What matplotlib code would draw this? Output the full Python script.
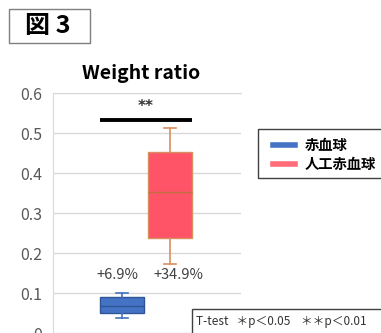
import matplotlib.pyplot as plt
from matplotlib.patches import Rectangle
from matplotlib.lines import Line2D

plt.rcParams['font.family'] = ['Noto Sans CJK JP', 'DejaVu Sans']

# box statistics per group: whisker low, Q1, median, Q3, whisker high
groups = ['赤血球', '人工赤血球']
whislo = [0.037, 0.172]
q1 = [0.050, 0.237]
med = [0.068, 0.352]
q3 = [0.090, 0.452]
whishi = [0.100, 0.512]
change_labels = ['+6.9%', '+34.9%']
label_x = [0.90, 2.17]
label_y = 0.145
sig_y = 0.533
sig_text = '**'

face_colors = ['#4472C4', '#FF5468']
edge_colors = ['#2F5597', '#D98F5F']
median_colors = ['#2F5597', '#C0703F']
legend_colors = ['#4472C4', '#FF6B78']

positions = [1, 2]
width = 0.92

fig = plt.figure(figsize=(3.81, 3.33), dpi=100)
ax = fig.add_axes([53 / 381, 0.0, 188 / 381, 240 / 333])

for i in range(len(groups)):
    stats = [dict(whislo=whislo[i], q1=q1[i], med=med[i], q3=q3[i],
                  whishi=whishi[i], fliers=[], label=groups[i])]
    ax.bxp(stats, positions=[positions[i]], widths=width, patch_artist=True,
           showfliers=False,
           boxprops=dict(facecolor=face_colors[i], edgecolor=edge_colors[i], linewidth=1.0),
           medianprops=dict(color=median_colors[i], linewidth=1.0),
           whiskerprops=dict(color=edge_colors[i] if i else face_colors[i], linewidth=1.2),
           capprops=dict(color=edge_colors[i] if i else face_colors[i], linewidth=1.2),
           capwidths=0.25)

ax.set_xlim(-0.44, 3.48)
ax.set_ylim(0, 0.6)
ax.set_yticks([0, 0.1, 0.2, 0.3, 0.4, 0.5, 0.6])
ax.set_yticklabels(['0', '0.1', '0.2', '0.3', '0.4', '0.5', '0.6'])
ax.set_xticks([])
ax.tick_params(axis='y', length=0, pad=8, labelsize=11.5, labelcolor='#595959')
ax.grid(axis='y', color='#D9D9D9', linewidth=1.0)
ax.set_axisbelow(True)
for side in ['right', 'bottom']:
    ax.spines[side].set_visible(False)
ax.spines['left'].set_color('#D9D9D9')
ax.spines['top'].set_color('#D9D9D9')

# significance bar across both boxes
ax.plot([positions[0] - width / 2, positions[1] + width / 2], [sig_y, sig_y],
        color='black', linewidth=2.8, solid_capstyle='butt')
ax.text(sum(positions) / 2, sig_y + 0.034, sig_text, ha='center', va='center',
        fontsize=11, fontweight='bold', color='#333333', family='DejaVu Sans')

for x, t in zip(label_x, change_labels):
    ax.text(x, label_y, t, ha='center', va='center', fontsize=10.5, color='#404040')

ax.set_title('Weight ratio', fontsize=14, fontweight='bold', pad=10, x=0.47)

# figure number box
fig.patches.append(Rectangle((9 / 381, 1 - 43 / 333), 81 / 381, 34 / 333,
                             transform=fig.transFigure, facecolor='white',
                             edgecolor='#7F7F7F', linewidth=1.0))
fig.text(48 / 381, 1 - 26 / 333, '図 3', ha='center', va='center',
         fontsize=18, fontweight='bold')

# legend frame running off the right edge
fig.patches.append(Rectangle((258 / 381, 1 - 178 / 333), 140 / 381, 49 / 333,
                             transform=fig.transFigure, facecolor='white',
                             edgecolor='#404040', linewidth=1.0))
handles = [Line2D([0], [0], color=c, linewidth=4) for c in legend_colors]
fig.legend(handles, groups, loc='upper left', bbox_to_anchor=(266 / 381, 1 - 132 / 333),
           frameon=False, handlelength=1.5, handletextpad=0.7,
           labelspacing=0.35, borderpad=0.0, prop=dict(weight='bold', size=10.3))

# test legend box at the bottom right
fig.patches.append(Rectangle((192 / 381, -0.05), 200 / 381, 0.05 + 24 / 333,
                             transform=fig.transFigure, facecolor='white',
                             edgecolor='#404040', linewidth=1.0))
fig.text(196 / 381, 1 - 322 / 333, 'T-test   ＊p＜0.05    ＊＊p＜0.01',
         ha='left', va='center', fontsize=8.5, color='#333333')

fig.savefig('out.png', dpi=100)
